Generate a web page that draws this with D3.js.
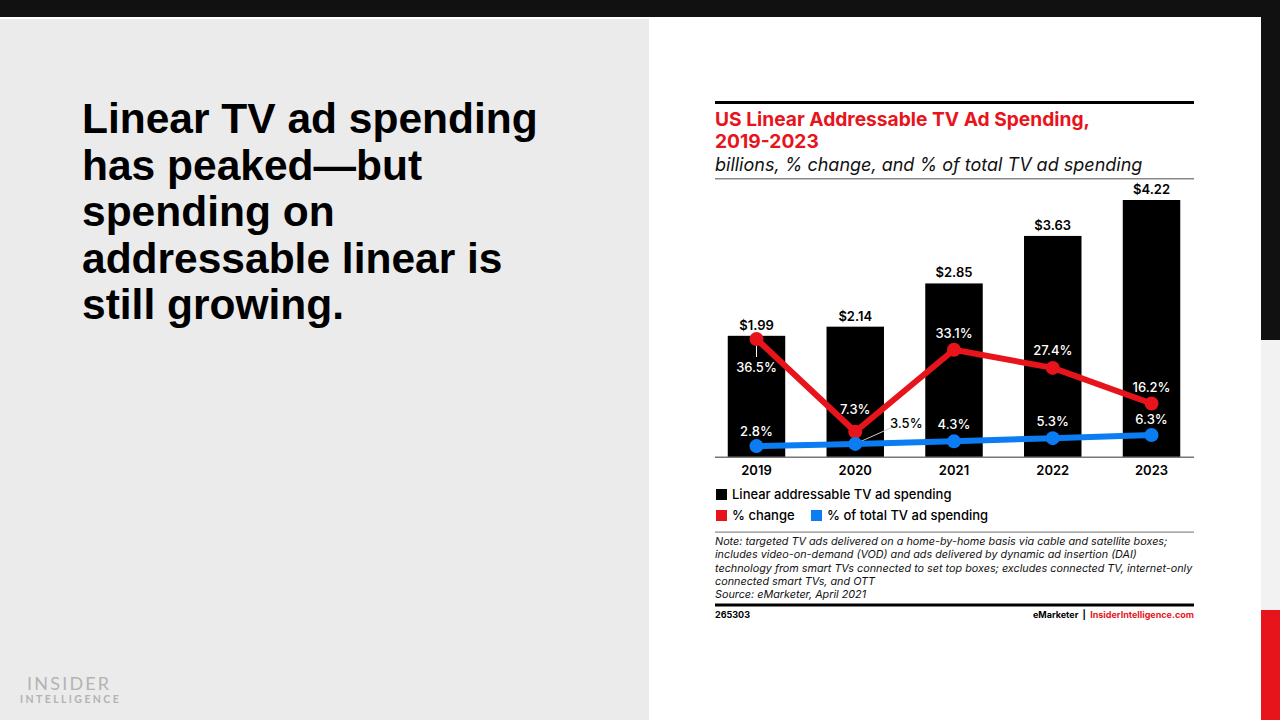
<!DOCTYPE html>
<html><head><meta charset="utf-8">
<script src="https://cdn.jsdelivr.net/npm/d3@7"></script>
<style>
html,body{margin:0;padding:0;background:#fff;}
svg{display:block;}
</style></head>
<body>
<svg id="c" width="1280" height="720"></svg>
<script>
const years = ["2019","2020","2021","2022","2023"];
const spending = [1.99, 2.14, 2.85, 3.63, 4.22];
const pctChange = [36.5, 7.3, 33.1, 27.4, 16.2];
const pctTotal = [2.8, 3.5, 4.3, 5.3, 6.3];
const spendLabels = ["$1.99","$2.14","$2.85","$3.63","$4.22"];
const changeLabels = ["36.5%","7.3%","33.1%","27.4%","16.2%"];
const totalLabels = ["2.8%","3.5%","4.3%","5.3%","6.3%"];
const headline = ["Linear TV ad spending","has peaked\u2014but","spending on","addressable linear is","still growing."];
const noteLines = [
 "Note: targeted TV ads delivered on a home-by-home basis via cable and satellite boxes;",
 "includes video-on-demand (VOD) and ads delivered by dynamic ad insertion (DAI)",
 "technology from smart TVs connected to set top boxes; excludes connected TV, internet-only",
 "connected smart TVs, and OTT",
 "Source: eMarketer, April 2021"
];

const RED = "#e8141c", BLUE = "#0b7cf2";
const F = "Inter, 'Open Sans', sans-serif";
const svg = d3.select("#c");

// background panels
svg.append("rect").attr("x",0).attr("y",0).attr("width",1280).attr("height",720).attr("fill","#fff");
svg.append("rect").attr("x",0).attr("y",0).attr("width",1280).attr("height",17).attr("fill","#111");
svg.append("rect").attr("x",0).attr("y",19).attr("width",649).attr("height",701).attr("fill","#ebebeb");
svg.append("rect").attr("x",1261).attr("y",0).attr("width",19).attr("height",340).attr("fill","#111");
svg.append("rect").attr("x",1261).attr("y",340).attr("width",19).attr("height",270).attr("fill","#f2f2f2");
svg.append("rect").attr("x",1261).attr("y",610).attr("width",19).attr("height",110).attr("fill",RED);

// headline
const hl = svg.append("text").attr("font-family","'Liberation Sans', Arial, sans-serif")
  .attr("font-weight","bold").attr("font-size",42.5).attr("fill","#000");
headline.forEach((t,i)=>hl.append("tspan").attr("x",82).attr("y",133+i*46.5).text(t));

// logo
svg.append("text").attr("x",27).attr("y",690).attr("font-family","Lato, sans-serif").attr("font-size",18)
  .attr("letter-spacing",2.2).attr("fill","#b3b3b3").text("INSIDER");
svg.append("text").attr("x",20).attr("y",703).attr("font-family","Lato, sans-serif").attr("font-size",10.5)
  .attr("font-weight","bold").attr("letter-spacing",2.4).attr("fill","#b3b3b3").text("INTELLIGENCE");

// chart header
const L = 715, R = 1194;
svg.append("rect").attr("x",L).attr("y",101).attr("width",R-L).attr("height",3).attr("fill","#000");
const tt = svg.append("text").attr("font-family",F).attr("font-weight","bold").attr("font-size",19.2).attr("fill",RED);
tt.append("tspan").attr("x",L).attr("y",126).text("US Linear Addressable TV Ad Spending,");
tt.append("tspan").attr("x",L).attr("y",148).text("2019-2023");
svg.append("text").attr("x",L).attr("y",171).attr("font-family",F).attr("font-style","italic")
  .attr("font-size",18).attr("fill","#111").text("billions, % change, and % of total TV ad spending");
svg.append("rect").attr("x",L).attr("y",178).attr("width",R-L).attr("height",1.5).attr("fill","#888");

// scales
const x = d3.scaleBand().domain(years).range([708, 1200]).paddingInner(0.418).paddingOuter(0.2);
const y = d3.scaleLinear().domain([0, 4.22]).range([457, 200]);
const yp = d3.scaleLinear().domain([0, 36.5]).range([455, 339]);
const cx = d => x(d) + x.bandwidth()/2;

// bars
svg.append("g").selectAll("rect").data(years).join("rect")
  .attr("x", d=>x(d)).attr("width", x.bandwidth())
  .attr("y", (d,i)=>y(spending[i])).attr("height",(d,i)=>y(0)-y(spending[i])).attr("fill","#000");
svg.append("g").selectAll("text").data(years).join("text")
  .attr("x",cx).attr("y",(d,i)=>y(spending[i])-6).attr("text-anchor","middle")
  .attr("font-family",F).attr("font-weight","600").attr("font-size",13).attr("fill","#000")
  .text((d,i)=>spendLabels[i]);

// axis
const ax = svg.append("g").attr("transform","translate(0,457)")
  .call(d3.axisBottom(x).tickSize(0).tickPadding(9));
ax.select(".domain").remove();
ax.selectAll("text").attr("font-family",F).attr("font-weight","600").attr("font-size",13).attr("fill","#000");
svg.append("rect").attr("x",L).attr("y",456.5).attr("width",R-L).attr("height",1.5).attr("fill","#777");

// leader lines
svg.append("line").attr("x1",cx("2019")).attr("x2",cx("2019")).attr("y1",yp(36.5)).attr("y2",yp(36.5)+18)
  .attr("stroke","#fff").attr("stroke-width",1);
svg.append("line").attr("x1",cx("2020")).attr("y1",yp(3.5)).attr("x2",cx("2020")+38).attr("y2",yp(3.5)-17)
  .attr("stroke","#ccc").attr("stroke-width",1);

// lines
const line = sc => d3.line().x((d,i)=>cx(years[i])).y(d=>sc(d));
svg.append("path").datum(pctChange).attr("d",line(yp)).attr("fill","none").attr("stroke",RED).attr("stroke-width",6).attr("stroke-linejoin","round");
svg.append("path").datum(pctTotal).attr("d",line(yp)).attr("fill","none").attr("stroke",BLUE).attr("stroke-width",6).attr("stroke-linejoin","round");
svg.append("g").selectAll("circle").data(pctChange).join("circle")
  .attr("cx",(d,i)=>cx(years[i])).attr("cy",d=>yp(d)).attr("r",7).attr("fill",RED);
svg.append("g").selectAll("circle").data(pctTotal).join("circle")
  .attr("cx",(d,i)=>cx(years[i])).attr("cy",d=>yp(d)).attr("r",7).attr("fill",BLUE);

// pct labels
const chOff = [33, -18, -12, -13, -12];
svg.append("g").selectAll("text").data(pctChange).join("text")
  .attr("x",(d,i)=>cx(years[i])).attr("y",(d,i)=>yp(d)+chOff[i]).attr("text-anchor","middle")
  .attr("font-family",F).attr("font-weight","500").attr("font-size",13).attr("fill","#fff")
  .text((d,i)=>changeLabels[i]);
const totDx = [0, 51, 0, 0, 0];
const totOff = [-10, -16, -12, -12, -11];
svg.append("g").selectAll("text").data(pctTotal).join("text")
  .attr("x",(d,i)=>cx(years[i])+totDx[i]).attr("y",(d,i)=>yp(d)+totOff[i]).attr("text-anchor","middle")
  .attr("font-family",F).attr("font-weight","500").attr("font-size",13).attr("fill",(d,i)=>i===1?"#000":"#fff")
  .text((d,i)=>totalLabels[i]);

// legend
const lg = svg.append("g").attr("font-family",F).attr("font-weight","500").attr("font-size",13).attr("fill","#000");
const legend = [
  {c:"#000", t:"Linear addressable TV ad spending", x:716, y:489},
  {c:RED, t:"% change", x:716, y:510},
  {c:BLUE, t:"% of total TV ad spending", x:811, y:510}
];
legend.forEach(l=>{
  lg.append("rect").attr("x",l.x).attr("y",l.y).attr("width",11).attr("height",11).attr("fill",l.c);
  lg.append("text").attr("x",l.x+16).attr("y",l.y+10).text(l.t);
});

// note
svg.append("rect").attr("x",L).attr("y",531.5).attr("width",R-L).attr("height",1.2).attr("fill","#888");
const nt = svg.append("text").attr("font-family",F).attr("font-style","italic").attr("font-size",10.8).attr("fill","#111");
noteLines.forEach((t,i)=>nt.append("tspan").attr("x",L).attr("y",545+i*13.3).text(t));
svg.append("rect").attr("x",L).attr("y",603.5).attr("width",R-L).attr("height",3).attr("fill","#000");
svg.append("text").attr("x",L).attr("y",618).attr("font-family",F).attr("font-weight","bold").attr("font-size",9).attr("fill","#000").text("265303");
const src = svg.append("text").attr("x",R).attr("y",618).attr("text-anchor","end").attr("font-family",F).attr("font-weight","bold").attr("font-size",9).style("white-space","pre");
src.append("tspan").attr("fill","#000").text("eMarketer  |  ");
src.append("tspan").attr("fill",RED).text("InsiderIntelligence.com");
</script>
</body></html>
